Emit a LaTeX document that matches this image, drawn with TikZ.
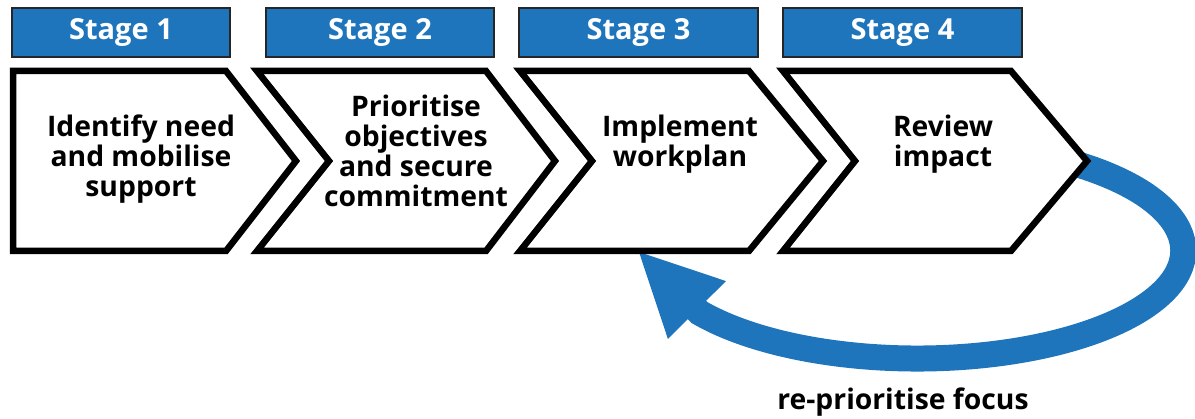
\documentclass[tikz,border=0pt]{standalone}
\usepackage{fontspec}
\setmainfont{Open Sans}
\usetikzlibrary{arrows.meta}
\definecolor{stageblue}{RGB}{30,117,188}
\begin{document}
\begin{tikzpicture}[x=1pt,y=-1pt,
  stagebox/.style={draw=black!85,line width=1.5pt,fill=stageblue,text=white,
    minimum height=49pt,inner sep=0pt,font=\bfseries\fontsize{29}{30}\selectfont},
  chevron/.style={draw=black,line width=6.5pt,fill=white},
  chevtext/.style={align=center,anchor=north,inner sep=0pt,
    font=\bfseries\fontsize{28.3}{30}\selectfont},
  feedback/.style={draw=stageblue,line width=26pt,line cap=round,
    -{Triangle[length=82pt,width=82pt,line width=0pt]}}]
  \useasboundingbox (0,0) rectangle (1195,419);
  % loop back from stage 4 to stage 3
  \coordinate (tip4) at (1066,161);
  \coordinate (tip3) at (639,252);
  \draw [feedback] (tip4) arc[start angle=-56,end angle=145,x radius=266,y radius=108] -- (tip3);
  % chevrons
  \draw [chevron] (13,71) -- (226,71) -- (296,161) -- (226,251) -- (13,251) -- cycle;
  \draw [chevron] (257,71) -- (486,71) -- (555,161) -- (486,251) -- (257,251) -- (329,161) -- cycle;
  \draw [chevron] (520,71) -- (749,71) -- (823,161) -- (749,251) -- (520,251) -- (592,161) -- cycle;
  \draw [chevron] (783,71) -- (1011,71) -- (1087,161) -- (1011,251) -- (783,251) -- (855,161) -- cycle;
  % stage headers
  \node [stagebox, minimum width=218pt] (s1) at (121,32.5) {Stage 1};
  \node [stagebox, minimum width=228pt] (s2) at (380,32.5) {Stage 2};
  \node [stagebox, minimum width=239pt] (s3) at (638.5,32.5) {Stage 3};
  \node [stagebox, minimum width=239pt] (s4) at (902.5,32.5) {Stage 4};
  % stage texts
  \node [chevtext] (c1) at (141,115) {Identify need\\and mobilise\\support};
  \node [chevtext] (c2) at (416,95) {Prioritise\\objectives\\and secure\\commitment};
  \node [chevtext] (c3) at (680,115) {Implement\\workplan};
  \node [chevtext] (c4) at (943,115) {Review\\impact};
  \node [chevtext, anchor=base] (focus) at (903,410) {re-prioritise focus};
\end{tikzpicture}
\end{document}
